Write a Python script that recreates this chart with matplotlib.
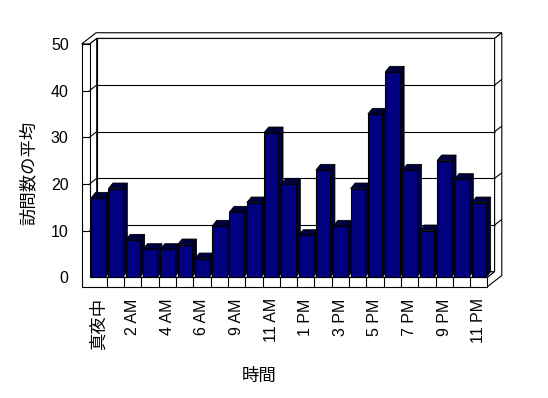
import matplotlib
matplotlib.use('Agg')
import matplotlib.pyplot as plt

# ---- data ----
hours = ['真夜中', '1 AM', '2 AM', '3 AM', '4 AM', '5 AM', '6 AM', '7 AM',
         '9 AM', '10 AM', '11 AM', '12 PM', '1 PM', '2 PM', '3 PM', '4 PM',
         '5 PM', '6 PM', '7 PM', '8 PM', '9 PM', '10 PM', '11 PM']
values = [17, 19, 8, 6, 6, 7, 4, 11, 14, 16, 31, 20, 9, 23, 11, 19, 35, 44,
          23, 10, 25, 21, 16]
yticks = [0, 10, 20, 30, 40, 50]
ylabel = '訪問数の平均'
xlabel = '時間'

# ---- layout ----
W, H = 548, 398
fig = plt.figure(figsize=(W / 100, H / 100), dpi=100)
fig.patch.set_facecolor('white')
x0, pitch = 89.5, 17.3
ybase, ppu = 277.3, 4.667
n = len(values)
ymax = yticks[-1]
ax = fig.add_axes([x0 / W, (H - ybase) / H, pitch * n / W, ppu * ymax / H])
ax.set_xlim(0, n)
ax.set_ylim(0, ymax)
ax.patch.set_visible(False)
for s in ax.spines.values():
    s.set_visible(False)

DX, DY = 7.2 / pitch, 5.6 / ppu      # wall / floor depth
BDX, BDY = 4.6 / pitch, 5.6 / ppu    # bar depth
TW = 7.8 / pitch                      # left wall thickness
FT = 9.4 / ppu                        # floor thickness
LW = 0.8


def P(x, y, d=0.0):
    return (x + d * DX, y + d * DY)


def poly(pts, fc='white', z=1, lw=LW):
    xs = [p[0] for p in pts]
    ys = [p[1] for p in pts]
    ax.fill(xs, ys, facecolor=fc, edgecolor='black', linewidth=lw,
            zorder=z, clip_on=False, joinstyle='miter')


def line(a, b, z=2):
    ax.plot([a[0], b[0]], [a[1], b[1]], color='black', linewidth=LW,
            zorder=z, clip_on=False, solid_capstyle='butt')


# back wall front face
poly([P(0, 0, 1), P(n, 0, 1), P(n, ymax, 1), P(0, ymax, 1)], z=1)
# left wall inner face
poly([P(0, 0, 0), P(0, 0, 1), P(0, ymax, 1), P(0, ymax, 0)], z=1)
# floor top
poly([P(0, 0, 0), P(n, 0, 0), P(n, 0, 1), P(0, 0, 1)], z=1)
# top faces (left wall + back wall)
poly([P(-TW, ymax, 0), P(0, ymax, 0), P(0, ymax, 1), P(n, ymax, 1),
      P(n, ymax, 2), P(-TW, ymax, 2)], z=1)
# right side face
poly([P(n, 0, 0), P(n, -FT, 0), P(n, -FT, 2), P(n, ymax, 2),
      P(n, ymax, 1), P(n, 0, 1)], z=1)
# front L face (left wall front + floor front)
poly([P(-TW, -FT, 0), P(n, -FT, 0), P(n, 0, 0), P(0, 0, 0),
      P(0, ymax, 0), P(-TW, ymax, 0)], z=1)

# gridlines and ticks
for v in yticks[1:-1]:
    line(P(0, v, 1), P(n, v, 1))
    line(P(0, v, 0), P(0, v, 1))
    line(P(n, v, 1), P(n, v, 2))
    line(P(-TW, v, 0), P(0, v, 0))
# category dividers on floor front
for i in range(1, n):
    line(P(i, -FT, 0), P(i, 0, 0))

# bars
a, w = 0.09, 0.83
navy = '#000080'
dark = '#00003c'
for i, v in enumerate(values):
    xl, xr = i + a, i + a + w
    poly([(xr, 0), (xr, v), (xr + BDX, v + BDY), (xr + BDX, BDY)],
         fc=dark, z=10, lw=0.6)
    poly([(xl, v), (xr, v), (xr + BDX, v + BDY), (xl + BDX, v + BDY)],
         fc=dark, z=10, lw=0.6)
ax.bar([i + a for i in range(n)], values, width=w, align='edge',
       color=navy, edgecolor='black', linewidth=LW, zorder=11, clip_on=False)

# tick labels
ax.set_yticks(yticks)
ax.set_yticklabels([str(t) for t in yticks], family='Liberation Sans',
                   fontsize=11.5)
ax.tick_params(axis='y', length=0, pad=15.0)
ax.set_xticks([i + 0.5 for i in range(0, n, 2)])
ax.set_xticklabels(hours[::2], rotation=90, family=['Liberation Sans', 'Noto Sans CJK JP'],
                   fontsize=11.5)
ax.tick_params(axis='x', length=0, pad=15.0)
for lab in ax.get_xticklabels():
    if any(ord(c) > 0x3000 for c in lab.get_text()):
        lab.set_family('Noto Sans CJK JP')
        lab.set_fontsize(12.5)

fig.text(28.3 / W, 1 - 173.3 / H, ylabel, rotation=90, ha='center',
         va='center', family='Noto Sans CJK JP', fontsize=12.5)
fig.text(259 / W, 1 - 376 / H, xlabel, ha='center', va='center',
         family='Noto Sans CJK JP', fontsize=12.5)

fig.savefig('out.png', dpi=100)
